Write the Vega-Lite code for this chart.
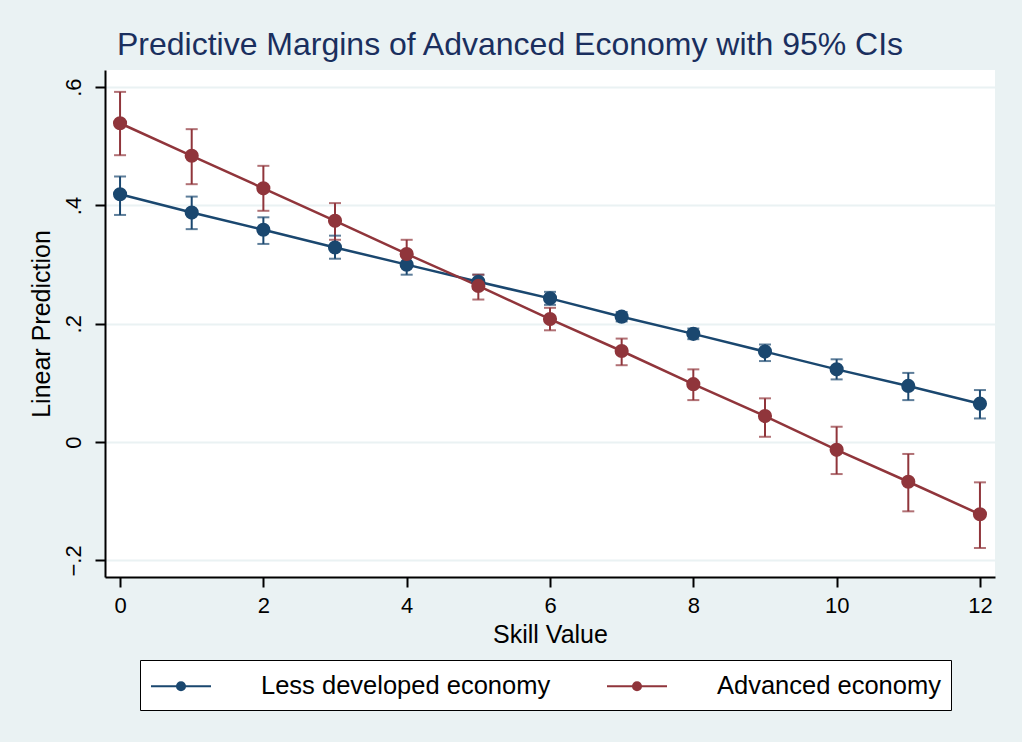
{
  "$schema": "https://vega.github.io/schema/vega-lite/v6.json",
  "width": 890,
  "height": 507,
  "autosize": {"type": "none"},
  "padding": {"left": 105, "top": 70, "right": 27, "bottom": 165},
  "background": "#EAF2F3",
  "config": {
    "font": "Liberation Sans",
    "view": {"fill": "white", "stroke": null},
    "axis": {"labelColor": "black", "titleColor": "black", "titleFontWeight": "normal", "domainColor": "black", "tickColor": "black"}
  },
  "title": {
    "text": "Predictive Margins of Advanced Economy with 95% CIs",
    "color": "#1a2f5e",
    "fontSize": 32,
    "fontWeight": "normal",
    "anchor": "middle",
    "dx": -40,
    "offset": 8
  },
  "data": {
    "values": [
      {"x": 0, "series": "Less developed economy", "y": 0.419, "lo": 0.384, "hi": 0.449},
      {"x": 1, "series": "Less developed economy", "y": 0.388, "lo": 0.360, "hi": 0.415},
      {"x": 2, "series": "Less developed economy", "y": 0.359, "lo": 0.335, "hi": 0.380},
      {"x": 3, "series": "Less developed economy", "y": 0.329, "lo": 0.310, "hi": 0.349},
      {"x": 4, "series": "Less developed economy", "y": 0.300, "lo": 0.283, "hi": 0.318},
      {"x": 5, "series": "Less developed economy", "y": 0.271, "lo": 0.259, "hi": 0.283},
      {"x": 6, "series": "Less developed economy", "y": 0.243, "lo": 0.232, "hi": 0.254},
      {"x": 7, "series": "Less developed economy", "y": 0.212, "lo": 0.204, "hi": 0.220},
      {"x": 8, "series": "Less developed economy", "y": 0.183, "lo": 0.174, "hi": 0.192},
      {"x": 9, "series": "Less developed economy", "y": 0.153, "lo": 0.137, "hi": 0.165},
      {"x": 10, "series": "Less developed economy", "y": 0.123, "lo": 0.106, "hi": 0.140},
      {"x": 11, "series": "Less developed economy", "y": 0.095, "lo": 0.071, "hi": 0.117},
      {"x": 12, "series": "Less developed economy", "y": 0.065, "lo": 0.040, "hi": 0.088},
      {"x": 0, "series": "Advanced economy", "y": 0.539, "lo": 0.485, "hi": 0.592},
      {"x": 1, "series": "Advanced economy", "y": 0.484, "lo": 0.436, "hi": 0.529},
      {"x": 2, "series": "Advanced economy", "y": 0.429, "lo": 0.391, "hi": 0.467},
      {"x": 3, "series": "Advanced economy", "y": 0.374, "lo": 0.342, "hi": 0.404},
      {"x": 4, "series": "Advanced economy", "y": 0.318, "lo": 0.296, "hi": 0.342},
      {"x": 5, "series": "Advanced economy", "y": 0.264, "lo": 0.241, "hi": 0.283},
      {"x": 6, "series": "Advanced economy", "y": 0.208, "lo": 0.189, "hi": 0.227},
      {"x": 7, "series": "Advanced economy", "y": 0.154, "lo": 0.130, "hi": 0.175},
      {"x": 8, "series": "Advanced economy", "y": 0.098, "lo": 0.071, "hi": 0.123},
      {"x": 9, "series": "Advanced economy", "y": 0.044, "lo": 0.009, "hi": 0.074},
      {"x": 10, "series": "Advanced economy", "y": -0.013, "lo": -0.054, "hi": 0.026},
      {"x": 11, "series": "Advanced economy", "y": -0.067, "lo": -0.117, "hi": -0.020},
      {"x": 12, "series": "Advanced economy", "y": -0.122, "lo": -0.179, "hi": -0.068}
    ]
  },
  "layer": [
    {
      "mark": {"type": "rule", "strokeWidth": 2},
      "encoding": {
        "x": {"field": "x", "type": "quantitative", "scale": {"domain": [-0.21, 12.21], "nice": false, "zero": false},
          "axis": {"title": "Skill Value", "titleFontSize": 25, "titlePadding": 6, "values": [0, 2, 4, 6, 8, 10, 12], "format": "d", "grid": false, "domainWidth": 2, "tickWidth": 2, "tickSize": 10, "labelFontSize": 22, "labelPadding": 8}},
        "y": {"field": "lo", "type": "quantitative", "scale": {"domain": [-0.228, 0.629], "nice": false, "zero": false},
          "axis": {"title": "Linear Prediction", "titleFontSize": 25, "titlePadding": 8, "values": [-0.2, 0, 0.2, 0.4, 0.6], "labelExpr": "datum.value == 0 ? '0' : replace(format(datum.value, '.1f'), '0.', '.')", "labelAngle": 270, "labelAlign": "center", "labelBaseline": "bottom", "labelFontSize": 22, "labelPadding": 10, "domainWidth": 2, "tickWidth": 2, "tickSize": 10, "grid": true, "gridColor": "#EAF2F3", "gridWidth": 2}},
        "y2": {"field": "hi"},
        "color": {"field": "series", "type": "nominal", "scale": {"domain": ["Less developed economy", "Advanced economy"], "range": ["#1a476f", "#90353b"]},
          "legend": {
            "title": null,
            "orient": "none",
            "legendX": 35,
            "legendY": 590,
            "direction": "horizontal",
            "columns": 2,
            "columnPadding": 52,
            "padding": 10,
            "strokeColor": "black",
            "fillColor": "white",
            "labelFontSize": 25.5,
            "labelColor": "black",
            "labelLimit": 500,
            "symbolType": "M-2,0H2M0.27,0A0.27,0.27,0,1,1,-0.27,0A0.27,0.27,0,1,1,0.27,0Z",
            "symbolSize": 900,
            "symbolOffset": 15,
            "symbolStrokeWidth": 2,
            "labelOffset": 64,
            "encode": {"symbols": {"update": {"stroke": {"scale": "color", "field": "value"}, "fill": {"scale": "color", "field": "value"}, "opacity": {"value": 1}, "fillOpacity": {"value": 1}}}}
          }}
      }
    },
    {
      "mark": {"type": "tick", "orient": "horizontal", "size": 12, "thickness": 2},
      "encoding": {
        "x": {"field": "x", "type": "quantitative"},
        "y": {"field": "lo", "type": "quantitative"},
        "color": {"field": "series", "type": "nominal"}
      }
    },
    {
      "mark": {"type": "tick", "orient": "horizontal", "size": 12, "thickness": 2},
      "encoding": {
        "x": {"field": "x", "type": "quantitative"},
        "y": {"field": "hi", "type": "quantitative"},
        "color": {"field": "series", "type": "nominal"}
      }
    },
    {
      "mark": {"type": "line", "strokeWidth": 2.5},
      "encoding": {
        "x": {"field": "x", "type": "quantitative"},
        "y": {"field": "y", "type": "quantitative"},
        "color": {"field": "series", "type": "nominal"}
      }
    },
    {
      "mark": {"type": "point", "filled": true, "shape": "circle", "size": 200, "opacity": 1},
      "encoding": {
        "x": {"field": "x", "type": "quantitative"},
        "y": {"field": "y", "type": "quantitative"},
        "color": {"field": "series", "type": "nominal"}
      }
    }
  ]
}
